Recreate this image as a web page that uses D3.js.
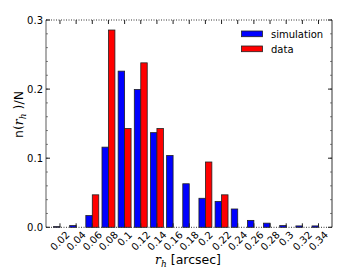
<!DOCTYPE html>
<html>
<head>
<meta charset="utf-8">
<script src="https://d3js.org/d3.v7.min.js"></script>
<style>
    body { margin: 0; background: #fff; }
    svg { font-family: "DejaVu Sans", sans-serif; }
</style>
</head>
<body>
<svg width="353" height="269"></svg>
<script>
    // bin centres (arcsec) and normalised counts
    const bins = [0.02, 0.04, 0.06, 0.08, 0.10, 0.12, 0.14, 0.16, 0.18, 0.20, 0.22, 0.24, 0.26, 0.28, 0.30, 0.32, 0.34]
    const binLabels = ["0.02", "0.04", "0.06", "0.08", "0.1", "0.12", "0.14", "0.16", "0.18", "0.2", "0.22", "0.24", "0.26", "0.28", "0.3", "0.32", "0.34"]
    const simulation = [0.001, 0.0025, 0.017, 0.116, 0.226, 0.1995, 0.137, 0.104, 0.063, 0.042, 0.0375, 0.0265, 0.010, 0.006, 0.0025, 0.002, 0.002]
    const obsData = [0, 0, 0.047, 0.2855, 0.143, 0.238, 0.143, 0, 0, 0.0945, 0.047, 0, 0, 0, 0, 0, 0]
    const yTicks = [0.0, 0.1, 0.2, 0.3]
    const seriesNames = ["simulation", "data"]
    const seriesColors = ["#0000ff", "#ff0000"]

    const svg = d3.select("svg")
    const L = 46, R = 332, T = 20, B = 227.3
    const binW = 0.02

    let x = d3.scaleLinear().domain([0.0027, 0.3567]).range([L, R])
    let y = d3.scaleLinear().domain([0, 0.3]).range([B, T])

    // bars: two series side by side, each 0.4 of bin width
    const series = [simulation, obsData]
    series.forEach((vals, s) => {
        svg.append("g").selectAll("rect")
            .data(bins.map((b, i) => ({ b: b, v: vals[i] })).filter(d => d.v > 0))
            .enter().append("rect")
            .attr("x", d => x(d.b - 0.4 * binW + s * 0.4 * binW))
            .attr("width", x(0.4 * binW) - x(0))
            .attr("y", d => y(d.v))
            .attr("height", d => y(0) - y(d.v))
            .attr("fill", seriesColors[s])
            .attr("stroke", "#222")
            .attr("stroke-width", 0.8)
    })

    // frame
    svg.append("line").attr("x1", L).attr("x2", L).attr("y1", T).attr("y2", B)
        .attr("stroke", "#999").attr("stroke-width", 1.6)
    svg.append("line").attr("x1", R).attr("x2", R).attr("y1", T).attr("y2", B)
        .attr("stroke", "#333").attr("stroke-width", 1)
    ;[T, B].forEach(yy => {
        svg.append("line").attr("x1", L).attr("x2", R).attr("y1", yy).attr("y2", yy)
            .attr("stroke", "#333").attr("stroke-width", 1).attr("stroke-dasharray", "1 1.5")
    })

    // y ticks (major + minor) on both sides
    const yMinor = d3.range(0, 0.301, 0.02)
    yMinor.forEach(v => {
        svg.append("line").attr("x1", L).attr("x2", L + 2).attr("y1", y(v)).attr("y2", y(v)).attr("stroke", "#333").attr("stroke-width", 0.6)
        svg.append("line").attr("x1", R).attr("x2", R - 2).attr("y1", y(v)).attr("y2", y(v)).attr("stroke", "#333").attr("stroke-width", 0.6)
    })
    yTicks.forEach(v => {
        svg.append("line").attr("x1", L).attr("x2", L + 4).attr("y1", y(v)).attr("y2", y(v)).attr("stroke", "#222")
        svg.append("line").attr("x1", R).attr("x2", R - 4).attr("y1", y(v)).attr("y2", y(v)).attr("stroke", "#222")
        svg.append("text").text(d3.format(".1f")(v))
            .attr("x", L - 3).attr("y", y(v) + 3.5)
            .attr("text-anchor", "end").attr("font-size", 10)
    })

    // x ticks
    bins.forEach((b, i) => {
        svg.append("line").attr("x1", x(b)).attr("x2", x(b)).attr("y1", B).attr("y2", B - 4).attr("stroke", "#222")
        svg.append("line").attr("x1", x(b)).attr("x2", x(b)).attr("y1", T).attr("y2", T + 4).attr("stroke", "#222")
        let t = svg.append("text").text(binLabels[i])
            .attr("font-size", 10)
            .attr("text-anchor", "middle")
            .attr("dominant-baseline", "central")
        let w = t.node().getComputedTextLength()
        let h = 8
        let cy = B + 3 + (w / 2 + h / 2) * Math.SQRT1_2
        t.attr("transform", `translate(${x(b)},${cy}) rotate(-45)`)
    })

    // axis labels
    let xl = svg.append("text").attr("x", 188).attr("y", 264).attr("text-anchor", "middle").attr("font-size", 12.5)
    xl.append("tspan").text("r").attr("font-family", "DejaVu Serif").attr("font-style", "italic")
    xl.append("tspan").text("h").attr("font-family", "DejaVu Serif").attr("font-style", "italic").attr("font-size", 9).attr("dy", 2.5)
    xl.append("tspan").text("  [arcsec]").attr("dy", -2.5)

    let yl = svg.append("text").attr("transform", "translate(23,114.5) rotate(-90)").attr("text-anchor", "middle").attr("font-size", 12.5)
    yl.append("tspan").text("n(")
    yl.append("tspan").text("r").attr("font-family", "DejaVu Serif").attr("font-style", "italic")
    yl.append("tspan").text("h").attr("font-family", "DejaVu Serif").attr("font-style", "italic").attr("font-size", 9).attr("dy", 2.5)
    yl.append("tspan").text(" )/N").attr("dy", -2.5)

    // legend
    seriesNames.forEach((n, i) => {
        svg.append("rect").attr("x", 241.5).attr("y", 31 + i * 15).attr("width", 21).attr("height", 5.7)
            .attr("fill", seriesColors[i]).attr("stroke", "#222").attr("stroke-width", 0.8)
        svg.append("text").text(n).attr("x", 271).attr("y", 37.5 + i * 15).attr("font-size", 10)
    })
</script>
</body>
</html>
